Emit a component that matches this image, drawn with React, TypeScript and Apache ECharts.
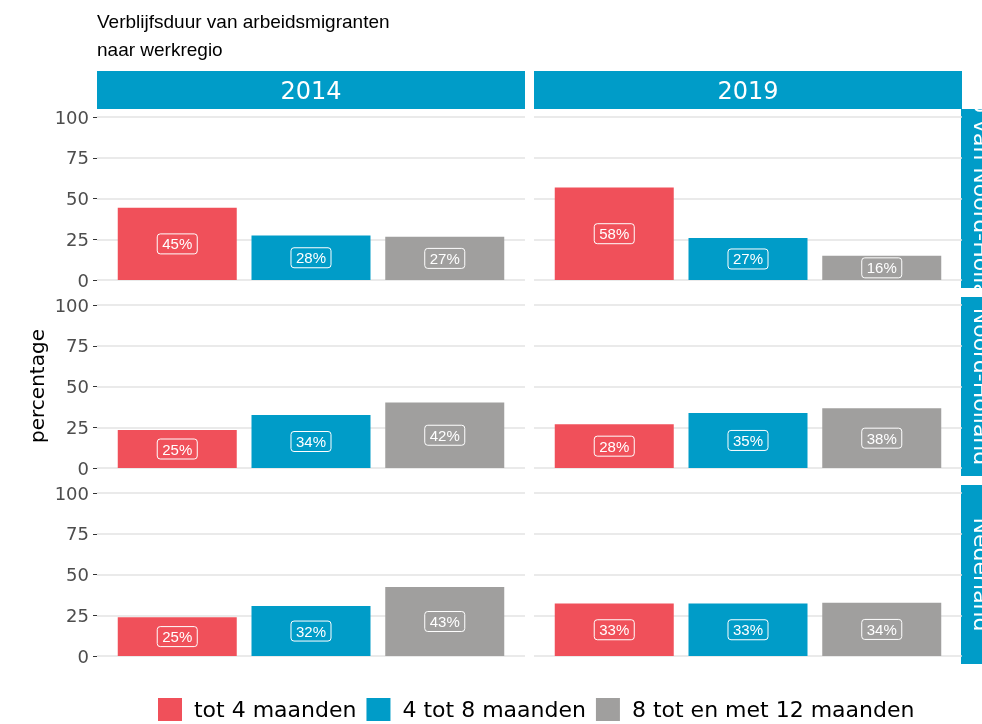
import React, { useEffect, useRef } from 'react';
import * as echarts from 'echarts';

const regions = ['Kop van Noord-Holland', 'Noord-Holland', 'Nederland'];
const years = ['2014', '2019'];
const categories = ['tot 4 maanden', '4 tot 8 maanden', '8 tot en met 12 maanden'];
const colors = ['#F0505A', '#009CC8', '#A09F9E'];

// bar heights (percentage), per region [2014, 2019]
const tot4 = [[44.3, 56.8], [23.3, 26.8], [23.8, 32.2]];
const tot8 = [[27.3, 25.8], [32.5, 33.8], [30.6, 32.2]];
const tot12 = [[26.5, 14.9], [40.2, 36.6], [42.3, 32.6]];
// printed labels, per region [2014, 2019]
const lab4 = [[45, 58], [25, 28], [25, 33]];
const lab8 = [[28, 27], [34, 35], [32, 33]];
const lab12 = [[27, 16], [42, 38], [43, 34]];

const values = [tot4, tot8, tot12];
const labels = [lab4, lab8, lab12];

const STRIP = '#009CC8';
const SANS = 'DejaVu Sans';

export default function App() {
  const ref = useRef<HTMLDivElement>(null);
  useEffect(() => {
    if (!ref.current) return;
    const chart = echarts.init(ref.current, null, { renderer: 'svg' });
    const grids: any[] = [];
    const xAxes: any[] = [];
    const yAxes: any[] = [];
    const series: any[] = [];
    const graphics: any[] = [];
    let g = 0;
    regions.forEach((reg, r) => {
      years.forEach((yr, y) => {
        grids.push({ left: 97 + 437 * y, top: 117 + 188 * r, width: 428, height: 163 });
        xAxes.push({ type: 'value', gridIndex: g, min: 0.4, max: 3.6, show: false });
        yAxes.push({
          type: 'value', gridIndex: g, min: 0, max: 100, interval: 25,
          axisLine: { show: false },
          axisTick: { show: y === 0, length: 4, lineStyle: { color: '#333', width: 1 } },
          axisLabel: { show: y === 0, color: '#4d4d4d', fontSize: 18, fontFamily: SANS, margin: 8 },
          splitLine: { lineStyle: { color: '#e3e3e3', width: 1.5 } },
        });
        categories.forEach((cat, c) => {
          series.push({
            type: 'bar', name: cat, xAxisIndex: g, yAxisIndex: g,
            barWidth: 119, barGap: '-100%',
            itemStyle: { color: colors[c] },
            data: [[c + 1, values[c][r][y]]],
            label: {
              show: true, position: 'inside', formatter: `${labels[c][r][y]}%`,
              color: '#fff', fontSize: 15, fontFamily: 'Liberation Sans',
              borderColor: '#fff', borderWidth: 1, borderRadius: 3, padding: [3, 5, 2, 5],
            },
          });
        });
        g++;
      });
    });
    years.forEach((yr, y) => {
      graphics.push({ type: 'rect', shape: { x: 97 + 437 * y, y: 71, width: 428, height: 38 }, style: { fill: STRIP } });
      graphics.push({
        type: 'text', x: 97 + 437 * y + 214, y: 91,
        style: { text: yr, fill: '#fff', font: `24px "${SANS}"`, align: 'center', verticalAlign: 'middle' },
      });
    });
    regions.forEach((reg, r) => {
      const top = 109 + 188 * r;
      graphics.push({ type: 'rect', shape: { x: 961, y: top, width: 40, height: 179 }, style: { fill: STRIP } });
      graphics.push({
        type: 'text', x: 981, y: top + 89.5, rotation: -Math.PI / 2,
        style: { text: reg, fill: '#fff', font: `22px "${SANS}"`, align: 'center', verticalAlign: 'middle' },
      });
      // clip overflow of the strip text outside its strip
      if (r === 0) {
        graphics.push({ type: 'rect', shape: { x: 963, y: top - 60, width: 40, height: 60 }, style: { fill: '#fff' } });
      }
      graphics.push({ type: 'rect', shape: { x: 961, y: top + 179, width: 40, height: 9 }, style: { fill: '#fff' } });
    });
    graphics.push({
      type: 'text', x: 37, y: 386, rotation: Math.PI / 2,
      style: { text: 'percentage', fill: '#000', font: `20px "${SANS}"`, align: 'center', verticalAlign: 'middle' },
    });

    chart.setOption({
      animation: false,
      title: {
        text: 'Verblijfsduur van arbeidsmigranten\nnaar werkregio',
        left: 97, top: 7, padding: 0,
        textStyle: { fontSize: 19, fontWeight: 'normal', lineHeight: 28, color: '#000', fontFamily: 'Liberation Sans' },
      },
      legend: {
        data: categories, left: 158, top: 698, itemWidth: 24, itemHeight: 23, itemGap: 10,
        icon: 'rect', padding: 0,
        formatter: (n: string) => ' ' + n,
        textStyle: { fontSize: 22, fontFamily: SANS, color: '#000' },
      },
      grid: grids, xAxis: xAxes, yAxis: yAxes, series,
      graphic: graphics,
    });
    return () => chart.dispose();
  }, []);
  return <div ref={ref} style={{ position: 'fixed', left: 0, top: 0, width: 982, height: 724 }} />;
}
